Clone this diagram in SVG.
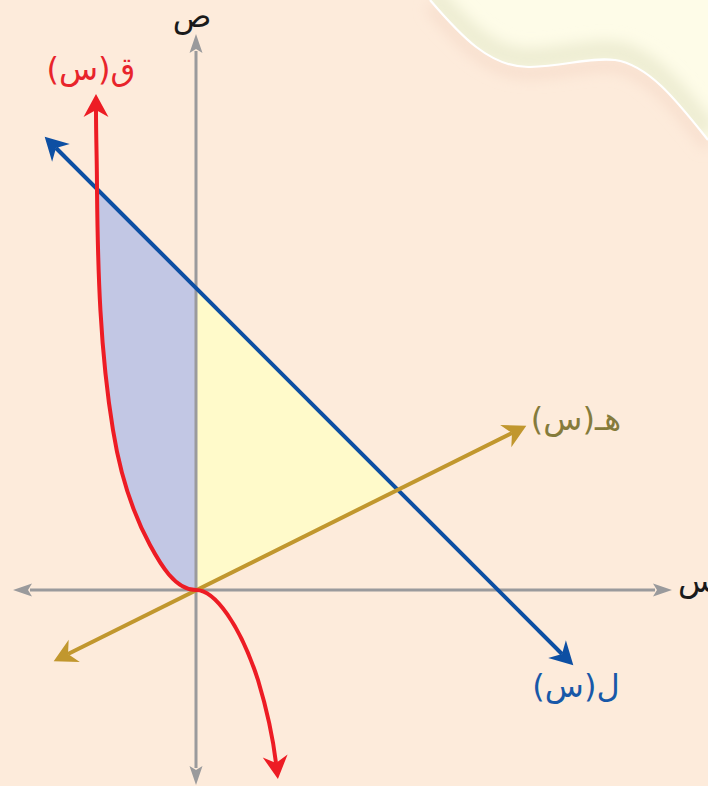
<svg xmlns="http://www.w3.org/2000/svg" width="708" height="786" viewBox="0 0 708 786">
<style>
.axis{stroke:#9a9a9c;stroke-width:3;fill:none}
.lbl{font-family:"DejaVu Sans",sans-serif;font-size:32px}
</style>
<defs>
<marker id="ag" markerUnits="userSpaceOnUse" viewBox="-8 -8 26 16" refX="0" refY="0" markerWidth="26" markerHeight="16" orient="auto-start-reverse">
<path d="M17,0 L-2,-6.5 L2,0 L-2,6.5 Z" fill="#9a9a9c"/>
</marker>
<marker id="ar" markerUnits="userSpaceOnUse" viewBox="-10 -14 30 28" refX="0" refY="0" markerWidth="30" markerHeight="28" orient="auto-start-reverse">
<path d="M16,0 L-7,-12.5 L0,0 L-7,12.5 Z" fill="#ed1c24"/>
</marker>
<marker id="ab" markerUnits="userSpaceOnUse" viewBox="-10 -14 30 28" refX="0" refY="0" markerWidth="30" markerHeight="28" orient="auto-start-reverse">
<path d="M16,0 L-7,-12.5 L0,0 L-7,12.5 Z" fill="#0d4fa3"/>
</marker>
<marker id="ay" markerUnits="userSpaceOnUse" viewBox="-10 -14 30 28" refX="0" refY="0" markerWidth="30" markerHeight="28" orient="auto-start-reverse">
<path d="M16,0 L-7,-12.5 L0,0 L-7,12.5 Z" fill="#c1972e"/>
</marker>
<clipPath id="cc"><path d="M430,0 C460,35 490,68 530,67 C565,66 590,57 615,60 C650,65 680,105 708,140 L708,0 Z"/></clipPath>
<filter id="bl" x="-20%" y="-50%" width="140%" height="200%"><feGaussianBlur stdDeviation="7"/></filter>
</defs>
<rect width="708" height="786" fill="#fdebdb"/>
<g id="corner">
<path d="M430,0 C460,35 490,68 530,67 C565,66 590,57 615,60 C650,65 680,105 708,140" fill="none" stroke="#f6dccb" stroke-width="10" filter="url(#bl)" transform="translate(0,6)"/>
<path d="M430,0 C460,35 490,68 530,67 C565,66 590,57 615,60 C650,65 680,105 708,140 L708,0 Z" fill="#fefce8"/>
<g clip-path="url(#cc)"><path d="M430,0 C460,35 490,68 530,67 C565,66 590,57 615,60 C650,65 680,105 708,140" fill="none" stroke="#eeedd3" stroke-width="22" filter="url(#bl)" transform="translate(0,-8)"/></g>
<path d="M430,0 C460,35 490,68 530,67 C565,66 590,57 615,60 C650,65 680,105 708,140" fill="none" stroke="#ffffff" stroke-width="2.2"/>
</g>
<g id="regions">
<path id="blue-region" d="M196,288 L97,189 C97.8,270 100,351 113,430 C119.4,470 131,510 150,545 C160,563.5 175,590 196,590 Z" fill="#c2c7e4"/>
<path id="yellow-region" d="M196,590 L196,288 L397,489 Z" fill="#fffaca"/>
</g>
<g id="connectors">
<line class="axis" x1="30" y1="590" x2="655" y2="590" marker-start="url(#ag)" marker-end="url(#ag)"/>
<line class="axis" x1="196" y1="51" x2="196" y2="768" marker-start="url(#ag)" marker-end="url(#ag)"/>
<line x1="56" y1="148" x2="562" y2="654" stroke="#0d4fa3" stroke-width="4" marker-start="url(#ab)" marker-end="url(#ab)"/>
<line x1="68" y1="654" x2="512" y2="433" stroke="#c1972e" stroke-width="4" marker-start="url(#ay)" marker-end="url(#ay)"/>
<path d="M196,590 C175,590 160,563.5 150,545 C131,510 119.4,470 113,430 C100,351 97.8,270 97,190 C97,163 96,137 96,110" fill="none" stroke="#ed1c24" stroke-width="4" marker-end="url(#ar)"/>
<path d="M196,590 C215,590 240,625 258,680 C267,710 273,738 276,763" fill="none" stroke="#ed1c24" stroke-width="4" marker-end="url(#ar)"/>
</g>
<g id="labels">
<text class="lbl" x="192" y="27" text-anchor="middle" fill="#1a1a1a" font-size="29">ص</text>
<text class="lbl" x="678" y="592" fill="#1a1a1a" font-size="30">س</text>
<text class="lbl" x="91" y="80" text-anchor="middle" direction="rtl" fill="#e8242b">ق(س)</text>
<text class="lbl" x="576" y="430" text-anchor="middle" direction="rtl" fill="#857b3b">هـ(س)</text>
<text class="lbl" x="576" y="697" text-anchor="middle" direction="rtl" fill="#1858a8">ل(س)</text>
</g>
</svg>
